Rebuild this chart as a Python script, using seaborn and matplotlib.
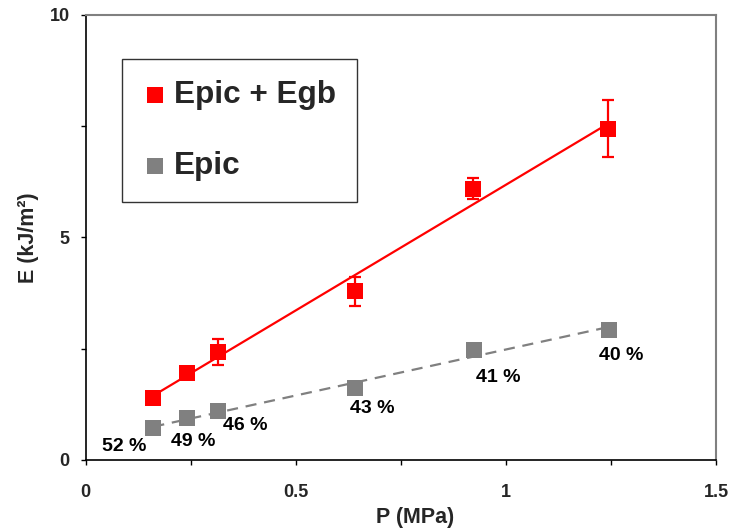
import numpy as np
import pandas as pd
import matplotlib
matplotlib.use("Agg")
import matplotlib.pyplot as plt
import seaborn as sns

# ---- data ----
p_red = [0.161, 0.242, 0.314, 0.641, 0.921, 1.242]
e_red = [1.40, 1.95, 2.43, 3.79, 6.10, 7.44]
err_red = [0.12, 0.08, 0.29, 0.33, 0.23, 0.64]

p_gray = [0.161, 0.242, 0.314, 0.641, 0.925, 1.246]
e_gray = [0.71, 0.94, 1.11, 1.62, 2.48, 2.93]
pct_labels = ["52 %", "49 %", "46 %", "43 %", "41 %", "40 %"]

x_ticks = [0, 0.5, 1, 1.5]
x_tick_labels = ["0", "0.5", "1", "1.5"]
y_ticks = [0, 5, 10]
y_tick_labels = ["0", "5", "10"]

# label offsets (pixels) relative to the gray points
lab_dx = [-29, 6, 28, 17, 24, 12]
lab_dy = [-18, -23, -15, -21, -28, -26]

sns.set_theme(style="white")
plt.rcParams["font.family"] = ["Liberation Sans", "DejaVu Sans"]
plt.rcParams["font.weight"] = "bold"

fig = plt.figure(figsize=(7.31, 5.28), dpi=100)
ax = fig.add_axes([0.1172, 0.1288, 0.8623, 0.8428])

RED = "#FF0000"
GRAY = "#808080"

df_red = pd.DataFrame({"P": p_red, "E": e_red})
df_gray = pd.DataFrame({"P": p_gray, "E": e_gray})

# fitted lines
cr = np.polyfit(p_red, e_red, 1)
cg = np.polyfit(p_gray, e_gray, 1)
xr = np.array([min(p_red), max(p_red)])
xg = np.array([min(p_gray), max(p_gray)])
sns.lineplot(x=xr, y=np.polyval(cr, xr), ax=ax, color=RED, lw=1.6, zorder=2)
sns.lineplot(x=xg, y=np.polyval(cg, xg), ax=ax, color=GRAY, lw=1.6,
             dashes=False, zorder=2, linestyle=(0, (5, 3.5)))

ax.errorbar(p_red, e_red, yerr=err_red, fmt="none", ecolor=RED,
            elinewidth=1.6, capsize=4.3, capthick=1.6, zorder=3)

sns.scatterplot(data=df_red, x="P", y="E", ax=ax, marker="s", color=RED,
                s=117, linewidth=0, label="Epic + Egb", zorder=4)
sns.scatterplot(data=df_gray, x="P", y="E", ax=ax, marker="s", color=GRAY,
                s=117, linewidth=0, label="Epic", zorder=4)

for x, y, t, dx, dy in zip(p_gray, e_gray, pct_labels, lab_dx, lab_dy):
    ax.annotate(t, (x, y), xytext=(dx, dy), textcoords="offset pixels",
                ha="center", va="center", fontsize=14, fontweight="bold",
                color="black")

ax.set_xlim(0, 1.5)
ax.set_ylim(0, 10)
ax.set_xticks(x_ticks)
ax.set_xticklabels(x_tick_labels)
ax.set_yticks(y_ticks)
ax.set_yticklabels(y_tick_labels)
ax.set_xticks([0.25, 0.75, 1.25], minor=True)
ax.set_yticks([2.5, 7.5], minor=True)
ax.tick_params(axis="both", which="both", direction="out", length=3.6,
               width=1.0, color="black", bottom=True, left=True)
ax.tick_params(axis="x", which="major", labelsize=13, pad=14)
ax.tick_params(axis="y", which="major", labelsize=13, pad=8)
for lab in ax.get_xticklabels() + ax.get_yticklabels():
    lab.set_fontweight("bold")

ax.set_xlabel("P (MPa)", fontsize=15.5, fontweight="bold")
ax.xaxis.set_label_coords(0.522, -0.1056)
ax.set_ylabel("E (kJ/m²)", fontsize=15.5, fontweight="bold", labelpad=7.5)

for s in ["left", "bottom"]:
    ax.spines[s].set_color("black")
    ax.spines[s].set_linewidth(1.2)
for s in ["top", "right"]:
    ax.spines[s].set_color(GRAY)
    ax.spines[s].set_linewidth(1.5)

leg = ax.legend(loc="upper left", bbox_to_anchor=(0.0576, 0.901),
                borderaxespad=0, fontsize=22.7, frameon=True, fancybox=False,
                handlelength=0.8, handletextpad=0.2, labelspacing=1.3,
                borderpad=0.66, markerscale=1.0)
leg.get_frame().set_edgecolor("black")
leg.get_frame().set_linewidth(1.0)
for t in leg.get_texts():
    t.set_fontweight("bold")

fig.savefig("out.png", dpi=100)
